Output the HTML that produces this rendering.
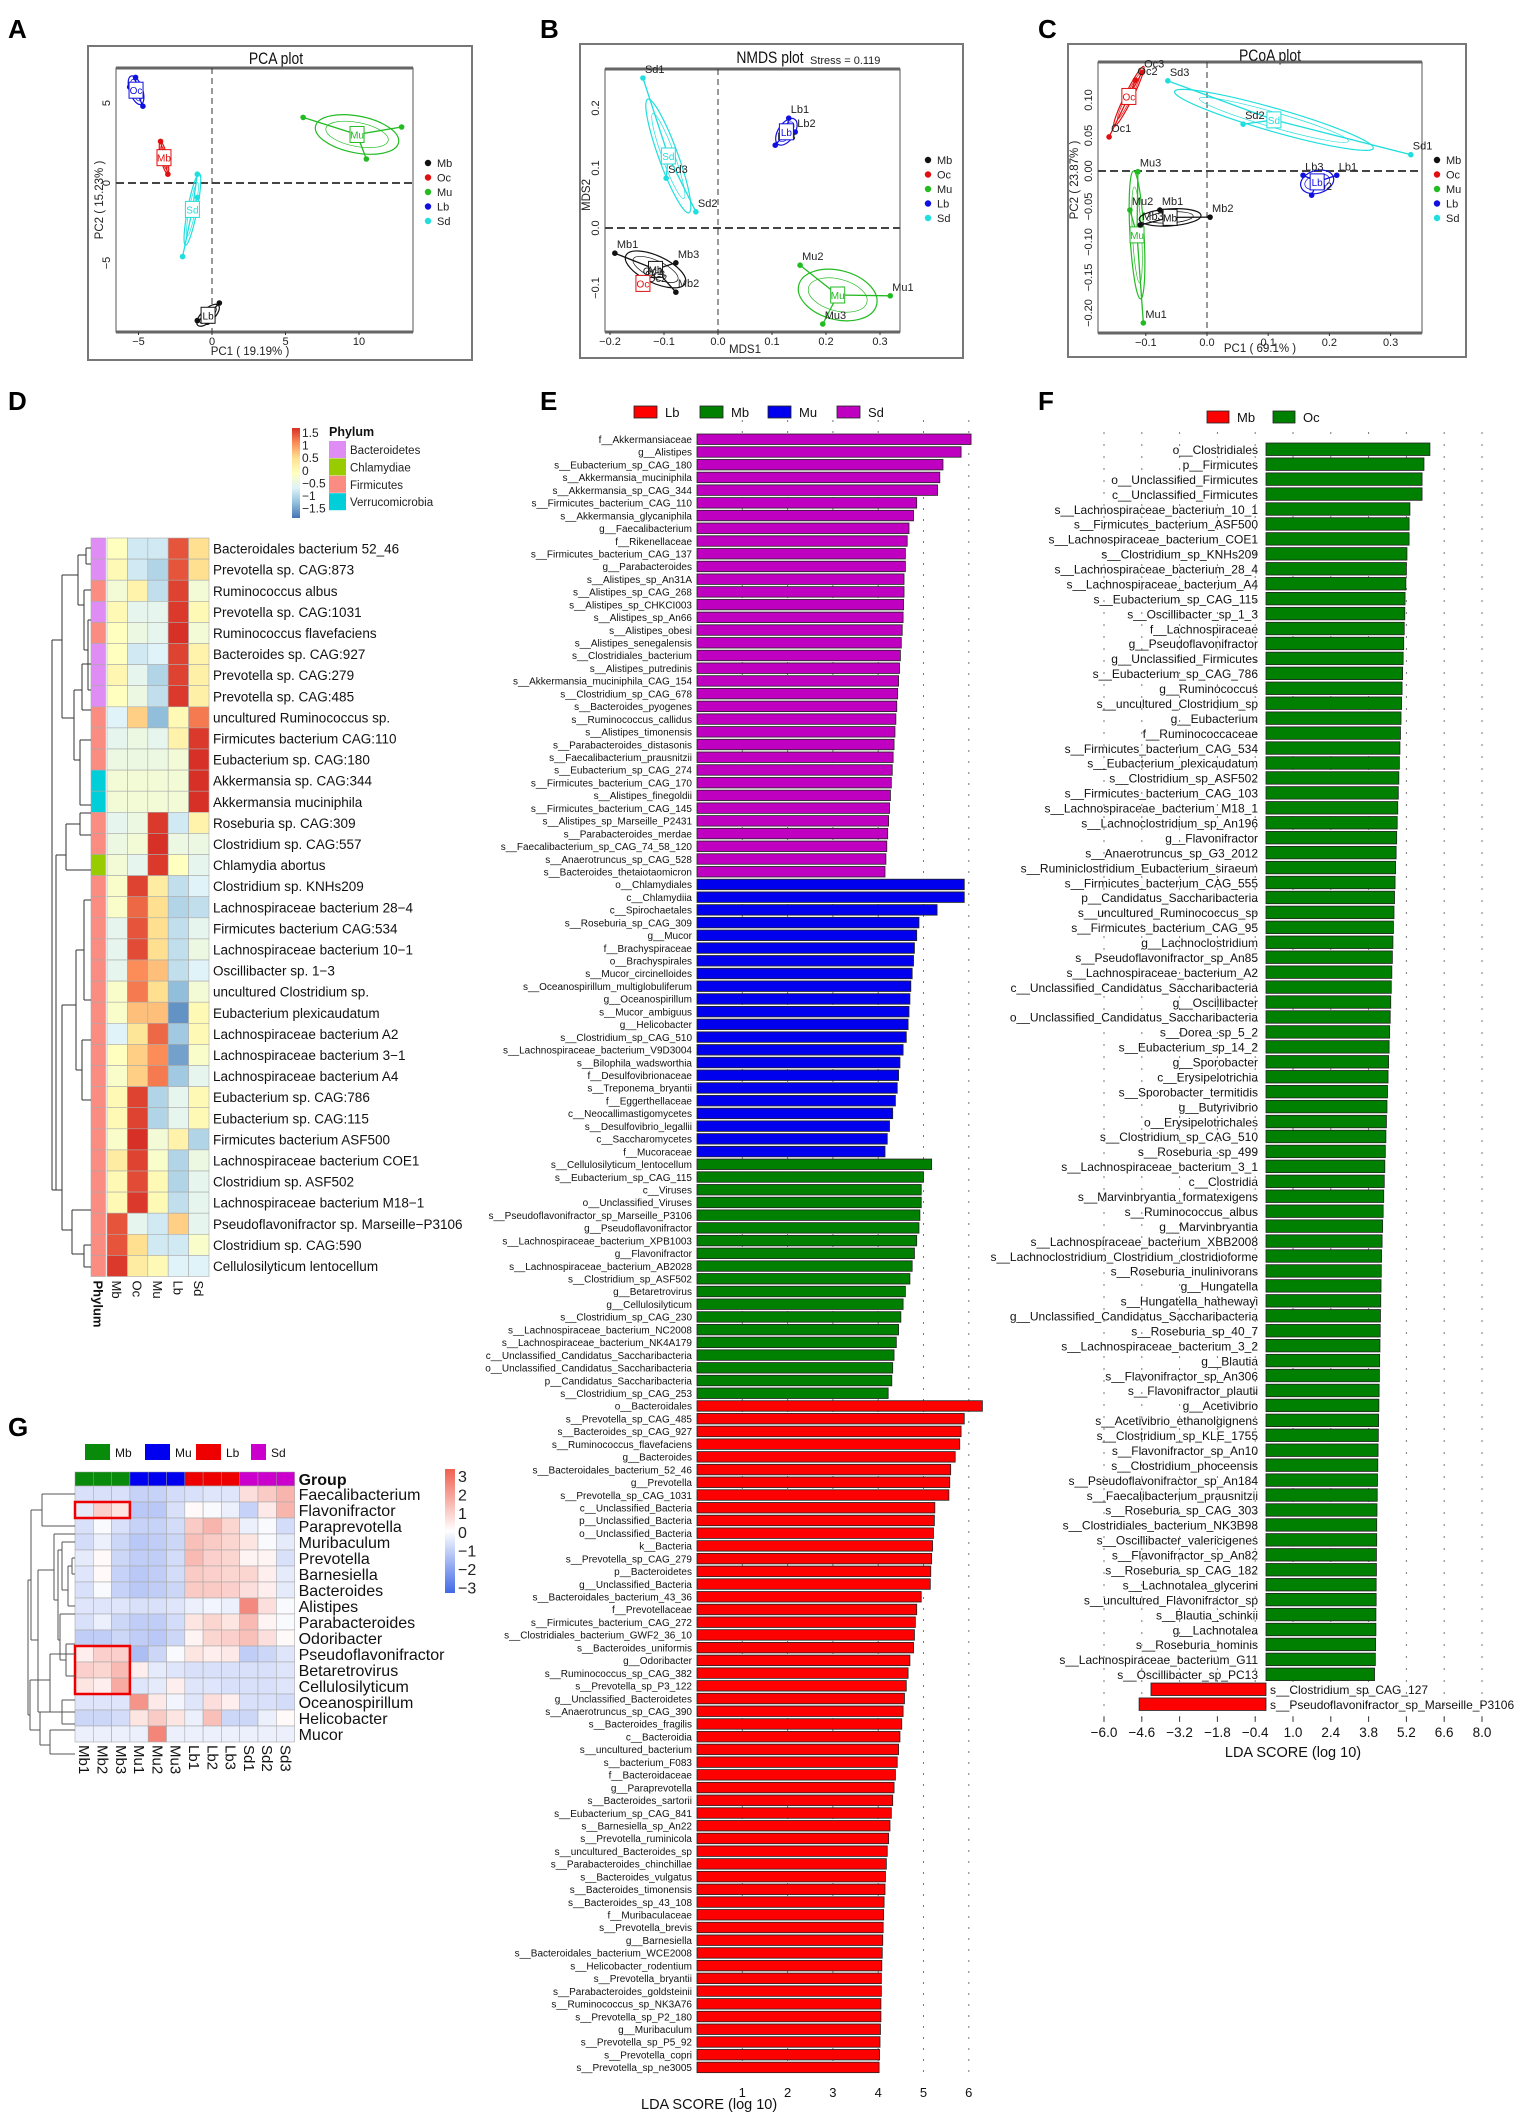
<!DOCTYPE html>
<html><head><meta charset="utf-8"><title>Microbiome figure</title>
<style>
html,body{margin:0;padding:0;background:#fff;}
svg{display:block;font-family:"Liberation Sans",Arial,sans-serif;}
</style></head>
<body>
<svg id="fig" xmlns="http://www.w3.org/2000/svg" width="1535" height="2120" viewBox="0 0 1535 2120"></svg>
<script>
// ---------------- DATA ----------------
const pcaGroups = ["Oc","Mb","Mu","Sd","Lb"];
const pcaColors = ["#1010e0","#e01010","#22bb22","#20dede","#111111"];
const pcaX = [[-5.2,-4.7,-5.6],[-3.5,-3.0,-3.3],[6.2,12.9,10.5],[-1.0,-2.0,-1.0],[0.5,-1.0,-0.3]];
const pcaY = [[6.6,4.8,6.0],[2.6,0.55,1.6],[4.1,3.5,1.5],[0.55,-4.6,-0.9],[-7.5,-8.6,-8.7]];
const pcaXTicks = [-5,0,5,10];
const pcaYTicks = [5,0,-5];
const nmdsNames = [["Sd1","Sd3","Sd2"],["Lb1","Lb2","Lb3"],["Mb1","Mb3","Mb2"],["Oc1","Oc2","Oc3"],["Mu2","Mu1","Mu3"]];
const nmdsColors = ["#20dede","#1010e0","#111111","#e01010","#22bb22"];
const nmdsX = [[-0.139,-0.096,-0.041],[0.131,0.143,0.106],[-0.191,-0.078,-0.078],[-0.143,-0.135,-0.139],[0.152,0.319,0.194]];
const nmdsY = [[0.25,0.083,0.027],[0.183,0.16,0.138],[-0.042,-0.058,-0.107],[-0.087,-0.098,-0.092],[-0.062,-0.113,-0.16]];
const nmdsXTicks = ["-0.2","-0.1","0.0","0.1","0.2","0.3"];
const nmdsYTicks = ["0.2","0.1","0.0","-0.1"];
const pcoaNames = [["Oc3","Oc2","Oc1"],["Sd3","Sd2","Sd1"],["Lb3","Lb1","Lb2"],["Mu3","Mu2","Mu1"],["Mb1","Mb2","Mb3"]];
const pcoaGroupLabels = ["Oc","Sd","Lb","Mu","Mb"];
const pcoaColors = ["#e01010","#20dede","#1010e0","#22bb22","#111111"];
const pcoaX = [[-0.106,-0.117,-0.16],[-0.064,0.059,0.333],[0.157,0.212,0.171],[-0.113,-0.126,-0.104],[-0.077,0.005,-0.109]];
const pcoaY = [[0.139,0.128,0.048],[0.127,0.066,0.023],[-0.006,-0.006,-0.034],[-0.001,-0.055,-0.214],[-0.055,-0.065,-0.076]];
const pcoaXTicks = ["-0.1","0.0","0.1","0.2","0.3"];
const pcoaYTicks = ["0.10","0.05","0.00","-0.05","-0.10","-0.15","-0.20"];
const legendGroups = ["Mb","Oc","Mu","Lb","Sd"];
const legendColors = ["#111111","#e01010","#22bb22","#1010e0","#20dede"];

const dCols = ["Mb","Oc","Mu","Lb","Sd"];
const dRows = ["Bacteroidales bacterium 52_46","Prevotella sp. CAG:873","Ruminococcus albus","Prevotella sp. CAG:1031","Ruminococcus flavefaciens","Bacteroides sp. CAG:927","Prevotella sp. CAG:279","Prevotella sp. CAG:485","uncultured Ruminococcus sp.","Firmicutes bacterium CAG:110","Eubacterium sp. CAG:180","Akkermansia sp. CAG:344","Akkermansia muciniphila","Roseburia sp. CAG:309","Clostridium sp. CAG:557","Chlamydia abortus","Clostridium sp. KNHs209","Lachnospiraceae bacterium 28\u22124","Firmicutes bacterium CAG:534","Lachnospiraceae bacterium 10\u22121","Oscillibacter sp. 1\u22123","uncultured Clostridium sp.","Eubacterium plexicaudatum","Lachnospiraceae bacterium A2","Lachnospiraceae bacterium 3\u22121","Lachnospiraceae bacterium A4","Eubacterium sp. CAG:786","Eubacterium sp. CAG:115","Firmicutes bacterium ASF500","Lachnospiraceae bacterium COE1","Clostridium sp. ASF502","Lachnospiraceae bacterium M18\u22121","Pseudoflavonifractor sp. Marseille\u2212P3106","Clostridium sp. CAG:590","Cellulosilyticum lentocellum"];
const dPhylum = ["B","B","F","B","F","B","B","B","F","F","F","V","V","F","F","C","F","F","F","F","F","F","F","F","F","F","F","F","F","F","F","F","F","F","F"];
const dValues = [
[0,-0.6,-0.6,1.3,0.5],[0.1,-0.6,-0.8,1.3,0.5],[-0.2,0.2,-0.7,1.4,-0.2],[0.1,-0.4,-0.4,1.45,0.1],[0,-0.3,-0.4,1.5,-0.2],
[0,-0.6,-0.5,1.4,0.2],[0.15,-0.4,-0.8,1.4,0.25],[0,-0.3,-0.7,1.45,0.25],[-0.5,0.6,-1.0,0.1,1.1],[-0.4,-0.3,-0.4,0.2,1.45],
[-0.3,-0.3,-0.3,-0.2,1.5],[-0.2,-0.2,-0.2,-0.2,1.5],[-0.2,-0.2,-0.2,-0.2,1.5],[-0.4,-0.3,1.45,-0.6,0.2],[-0.3,-0.2,1.5,-0.3,-0.3],
[-0.2,-0.4,1.45,0,-0.4],[-0.1,1.4,0.3,-0.7,-0.5],[-0.1,1.2,0.5,-0.8,-0.7],[-0.4,1.3,0.5,-0.7,-0.4],[-0.4,1.35,0.5,-0.7,-0.3],
[-0.4,1.0,0.7,-0.7,-0.5],[-0.1,1.1,0.5,-1.0,-0.2],[-0.1,0.7,0.7,-1.3,0.1],[-0.5,0.4,1.2,-0.9,0.1],[0,0.6,1.0,-1.2,-0.1],
[-0.1,0.6,1.1,-0.9,-0.4],[0.1,1.4,-0.8,-0.4,0.1],[0.1,1.4,-0.8,-0.4,0.1],[-0.1,1.5,-0.2,0.2,-0.8],[0.3,1.4,-0.1,-0.8,-0.3],
[0.1,1.35,0.1,-0.8,-0.4],[0.1,1.45,0.1,-0.7,-0.4],[1.3,-0.4,-0.6,0.6,-0.4],[1.3,0.5,-0.6,-0.6,-0.1],[1.45,0.3,0.1,-0.5,-0.5]];
const dScaleTicks = ["1.5","1","0.5","0","\u22120.5","\u22121","\u22121.5"];
const phylumNames = ["Bacteroidetes","Chlamydiae","Firmicutes","Verrucomicrobia"];
const phylumCodes = ["B","C","F","V"];
const phylumColors = ["#E08CF5","#99CC00","#FA8C82","#00CED9"];

const eGroupNames = ["Lb","Mb","Mu","Sd"];
const eGroupColors = ["#FF0000","#008000","#0000EE","#C000C0"];
const eSdLabels = ["f__Akkermansiaceae","g__Alistipes","s__Eubacterium_sp_CAG_180","s__Akkermansia_muciniphila","s__Akkermansia_sp_CAG_344","s__Firmicutes_bacterium_CAG_110","s__Akkermansia_glycaniphila","g__Faecalibacterium","f__Rikenellaceae","s__Firmicutes_bacterium_CAG_137","g__Parabacteroides","s__Alistipes_sp_An31A","s__Alistipes_sp_CAG_268","s__Alistipes_sp_CHKCI003","s__Alistipes_sp_An66","s__Alistipes_obesi","s__Alistipes_senegalensis","s__Clostridiales_bacterium","s__Alistipes_putredinis","s__Akkermansia_muciniphila_CAG_154","s__Clostridium_sp_CAG_678","s__Bacteroides_pyogenes","s__Ruminococcus_callidus","s__Alistipes_timonensis","s__Parabacteroides_distasonis","s__Faecalibacterium_prausnitzii","s__Eubacterium_sp_CAG_274","s__Firmicutes_bacterium_CAG_170","s__Alistipes_finegoldii","s__Firmicutes_bacterium_CAG_145","s__Alistipes_sp_Marseille_P2431","s__Parabacteroides_merdae","s__Faecalibacterium_sp_CAG_74_58_120","s__Anaerotruncus_sp_CAG_528","s__Bacteroides_thetaiotaomicron"];
const eSdValues = [6.05,5.83,5.43,5.36,5.31,4.85,4.78,4.68,4.64,4.60,4.60,4.57,4.57,4.56,4.55,4.53,4.51,4.49,4.47,4.45,4.43,4.41,4.39,4.37,4.35,4.33,4.31,4.29,4.27,4.25,4.23,4.21,4.19,4.17,4.15];
const eMuLabels = ["o__Chlamydiales","c__Chlamydiia","c__Spirochaetales","s__Roseburia_sp_CAG_309","g__Mucor","f__Brachyspiraceae","o__Brachyspirales","s__Mucor_circinelloides","s__Oceanospirillum_multiglobuliferum","g__Oceanospirillum","s__Mucor_ambiguus","g__Helicobacter","s__Clostridium_sp_CAG_510","s__Lachnospiraceae_bacterium_V9D3004","s__Bilophila_wadsworthia","f__Desulfovibrionaceae","s__Treponema_bryantii","f__Eggerthellaceae","c__Neocallimastigomycetes","s__Desulfovibrio_legallii","c__Saccharomycetes","f__Mucoraceae"];
const eMuValues = [5.90,5.90,5.30,4.90,4.85,4.80,4.78,4.75,4.72,4.70,4.68,4.66,4.62,4.55,4.48,4.45,4.42,4.38,4.32,4.25,4.20,4.15];
const eMbLabels = ["s__Cellulosilyticum_lentocellum","s__Eubacterium_sp_CAG_115","c__Viruses","o__Unclassified_Viruses","s__Pseudoflavonifractor_sp_Marseille_P3106","g__Pseudoflavonifractor","s__Lachnospiraceae_bacterium_XPB1003","g__Flavonifractor","s__Lachnospiraceae_bacterium_AB2028","s__Clostridium_sp_ASF502","g__Betaretrovirus","g__Cellulosilyticum","s__Clostridium_sp_CAG_230","s__Lachnospiraceae_bacterium_NC2008","s__Lachnospiraceae_bacterium_NK4A179","c__Unclassified_Candidatus_Saccharibacteria","o__Unclassified_Candidatus_Saccharibacteria","p__Candidatus_Saccharibacteria","s__Clostridium_sp_CAG_253"];
const eMbValues = [5.18,5.00,4.95,4.95,4.92,4.90,4.85,4.80,4.75,4.70,4.60,4.55,4.50,4.45,4.40,4.35,4.32,4.30,4.22];
const eLbLabels = ["o__Bacteroidales","s__Prevotella_sp_CAG_485","s__Bacteroides_sp_CAG_927","s__Ruminococcus_flavefaciens","g__Bacteroides","s__Bacteroidales_bacterium_52_46","g__Prevotella","s__Prevotella_sp_CAG_1031","c__Unclassified_Bacteria","p__Unclassified_Bacteria","o__Unclassified_Bacteria","k__Bacteria","s__Prevotella_sp_CAG_279","p__Bacteroidetes","g__Unclassified_Bacteria","s__Bacteroidales_bacterium_43_36","f__Prevotellaceae","s__Firmicutes_bacterium_CAG_272","s__Clostridiales_bacterium_GWF2_36_10","s__Bacteroides_uniformis","g__Odoribacter","s__Ruminococcus_sp_CAG_382","s__Prevotella_sp_P3_122","g__Unclassified_Bacteroidetes","s__Anaerotruncus_sp_CAG_390","s__Bacteroides_fragilis","c__Bacteroidia","s__uncultured_bacterium","s__bacterium_F083","f__Bacteroidaceae","g__Paraprevotella","s__Bacteroides_sartorii","s__Eubacterium_sp_CAG_841","s__Barnesiella_sp_An22","s__Prevotella_ruminicola","s__uncultured_Bacteroides_sp","s__Parabacteroides_chinchillae","s__Bacteroides_vulgatus","s__Bacteroides_timonensis","s__Bacteroides_sp_43_108","f__Muribaculaceae","s__Prevotella_brevis","g__Barnesiella","s__Bacteroidales_bacterium_WCE2008","s__Helicobacter_rodentium","s__Prevotella_bryantii","s__Parabacteroides_goldsteinii","s__Ruminococcus_sp_NK3A76","s__Prevotella_sp_P2_180","g__Muribaculum","s__Prevotella_sp_P5_92","s__Prevotella_copri","s__Prevotella_sp_ne3005"];
const eLbValues = [6.30,5.90,5.83,5.80,5.70,5.60,5.58,5.56,5.25,5.24,5.22,5.20,5.18,5.16,5.15,4.95,4.85,4.82,4.80,4.78,4.70,4.66,4.62,4.58,4.55,4.52,4.48,4.45,4.42,4.38,4.35,4.32,4.29,4.26,4.23,4.20,4.18,4.16,4.15,4.13,4.12,4.11,4.10,4.09,4.08,4.07,4.07,4.06,4.06,4.05,4.04,4.03,4.02];
const eTicks = [1,2,3,4,5,6];

const fGroupNames = ["Mb","Oc"];
const fGroupColors = ["#FF0000","#008000"];
const fOcLabels = ["o__Clostridiales","p__Firmicutes","o__Unclassified_Firmicutes","c__Unclassified_Firmicutes","s__Lachnospiraceae_bacterium_10_1","s__Firmicutes_bacterium_ASF500","s__Lachnospiraceae_bacterium_COE1","s__Clostridium_sp_KNHs209","s__Lachnospiraceae_bacterium_28_4","s__Lachnospiraceae_bacterium_A4","s__Eubacterium_sp_CAG_115","s__Oscillibacter_sp_1_3","f__Lachnospiraceae","g__Pseudoflavonifractor","g__Unclassified_Firmicutes","s__Eubacterium_sp_CAG_786","g__Ruminococcus","s__uncultured_Clostridium_sp","g__Eubacterium","f__Ruminococcaceae","s__Firmicutes_bacterium_CAG_534","s__Eubacterium_plexicaudatum","s__Clostridium_sp_ASF502","s__Firmicutes_bacterium_CAG_103","s__Lachnospiraceae_bacterium_M18_1","s__Lachnoclostridium_sp_An196","g__Flavonifractor","s__Anaerotruncus_sp_G3_2012","s__Ruminiclostridium_Eubacterium_siraeum","s__Firmicutes_bacterium_CAG_555","p__Candidatus_Saccharibacteria","s__uncultured_Ruminococcus_sp","s__Firmicutes_bacterium_CAG_95","g__Lachnoclostridium","s__Pseudoflavonifractor_sp_An85","s__Lachnospiraceae_bacterium_A2","c__Unclassified_Candidatus_Saccharibacteria","g__Oscillibacter","o__Unclassified_Candidatus_Saccharibacteria","s__Dorea_sp_5_2","s__Eubacterium_sp_14_2","g__Sporobacter","c__Erysipelotrichia","s__Sporobacter_termitidis","g__Butyrivibrio","o__Erysipelotrichales","s__Clostridium_sp_CAG_510","s__Roseburia_sp_499","s__Lachnospiraceae_bacterium_3_1","c__Clostridia","s__Marvinbryantia_formatexigens","s__Ruminococcus_albus","g__Marvinbryantia","s__Lachnospiraceae_bacterium_XBB2008","s__Lachnoclostridium_Clostridium_clostridioforme","s__Roseburia_inulinivorans","g__Hungatella","s__Hungatella_hathewayi","g__Unclassified_Candidatus_Saccharibacteria","s__Roseburia_sp_40_7","s__Lachnospiraceae_bacterium_3_2","g__Blautia","s__Flavonifractor_sp_An306","s__Flavonifractor_plautii","g__Acetivibrio","s__Acetivibrio_ethanolgignens","s__Clostridium_sp_KLE_1755","s__Flavonifractor_sp_An10","s__Clostridium_phoceensis","s__Pseudoflavonifractor_sp_An184","s__Faecalibacterium_prausnitzii","s__Roseburia_sp_CAG_303","s__Clostridiales_bacterium_NK3B98","s__Oscillibacter_valericigenes","s__Flavonifractor_sp_An82","s__Roseburia_sp_CAG_182","s__Lachnotalea_glycerini","s__uncultured_Flavonifractor_sp","s__Blautia_schinkii","g__Lachnotalea","s__Roseburia_hominis","s__Lachnospiraceae_bacterium_G11","s__Oscillibacter_sp_PC13"];
const fOcValues = [6.07,5.85,5.78,5.78,5.33,5.30,5.30,5.22,5.20,5.18,5.15,5.14,5.12,5.10,5.08,5.06,5.04,5.02,5.00,4.98,4.96,4.94,4.92,4.90,4.88,4.86,4.84,4.82,4.80,4.78,4.76,4.74,4.72,4.70,4.68,4.66,4.64,4.62,4.60,4.58,4.56,4.54,4.52,4.50,4.48,4.46,4.44,4.42,4.40,4.38,4.36,4.34,4.32,4.30,4.28,4.27,4.26,4.25,4.24,4.23,4.22,4.21,4.20,4.19,4.18,4.17,4.16,4.15,4.14,4.13,4.12,4.11,4.10,4.10,4.09,4.09,4.08,4.08,4.07,4.07,4.06,4.05,4.02];
const fMbLabels = ["s__Clostridium_sp_CAG_127","s__Pseudoflavonifractor_sp_Marseille_P3106"];
const fMbValues = [-4.26,-4.70];
const fTicks = ["\u22126.0","\u22124.6","\u22123.2","\u22121.8","\u22120.4","1.0","2.4","3.8","5.2","6.6","8.0"];
const fTickVals = [-6.0,-4.6,-3.2,-1.8,-0.4,1.0,2.4,3.8,5.2,6.6,8.0];

const gCols = ["Mb1","Mb2","Mb3","Mu1","Mu2","Mu3","Lb1","Lb2","Lb3","Sd1","Sd2","Sd3"];
const gColGroup = ["Mb","Mb","Mb","Mu","Mu","Mu","Lb","Lb","Lb","Sd","Sd","Sd"];
const gGroupNames = ["Mb","Mu","Lb","Sd"];
const gGroupColors = ["#0A8A0A","#0000F0","#EE0000","#CC00CC"];
const gRows = ["Faecalibacterium","Flavonifractor","Paraprevotella","Muribaculum","Prevotella","Barnesiella","Bacteroides","Alistipes","Parabacteroides","Odoribacter","Pseudoflavonifractor","Betaretrovirus","Cellulosilyticum","Oceanospirillum","Helicobacter","Mucor"];
const gValues = [
[-0.6,-0.6,-0.6,-0.9,-0.9,-0.7,-0.6,-0.5,-0.5,0.6,1.0,1.4],
[-0.4,0.9,0.5,-1.1,-1.1,-0.6,0.1,-0.1,-0.3,-0.9,0.4,1.4],
[-0.6,-0.1,-0.6,-0.9,-0.9,-0.7,1.0,1.4,0.8,-0.3,-0.1,-0.7],
[-0.7,-0.3,-0.8,-1.1,-1.0,-0.8,1.2,1.0,0.8,0.5,-0.1,-0.4],
[-0.4,0.1,-0.8,-1.0,-1.0,-0.7,1.3,0.9,0.8,0.2,0.2,-0.6],
[-0.5,0.1,-0.9,-1.1,-1.0,-0.7,1.0,0.9,0.8,0.8,0.3,-0.4],
[-0.6,-0.1,-0.9,-1.1,-1.0,-0.8,1.0,1.0,0.9,0.6,0.3,-0.4],
[-0.5,-0.5,-0.5,-0.6,-0.6,-0.5,-0.3,-0.2,-0.3,2.2,0.6,-0.1],
[-0.6,-0.3,-0.8,-1.0,-1.0,-0.7,0.5,0.8,0.5,1.3,0.2,-0.1],
[-1.0,-1.0,-0.8,-1.0,-1.1,-0.8,0.2,0.8,0.9,1.2,0.6,0.1],
[0.3,0.9,0.9,-1.3,-0.8,-0.1,0.5,0.3,0.4,-1.0,-0.8,-0.5],
[0.9,0.8,1.3,0.3,-0.4,-0.5,-0.6,-0.6,-0.6,-0.6,-0.6,-0.5],
[0.5,0.3,1.6,-0.5,-0.4,0.3,-0.5,-0.5,-0.6,-0.6,-0.6,-0.5],
[-0.5,-0.5,-0.5,2.0,0.4,-0.2,-0.5,0.6,0.3,-0.6,-0.6,-0.7],
[-0.8,-0.8,-0.7,0.5,1.0,0.5,-0.3,1.2,-0.8,-0.8,-0.3,0.1],
[-0.3,-0.3,-0.3,-0.3,2.3,-0.3,-0.3,-0.3,-0.3,-0.3,-0.3,-0.3]];
const gScaleTicks = ["3","2","1","0","\u22121","\u22122","\u22123"];

// ---------------- DRAWING ----------------
const NS = "http://www.w3.org/2000/svg";
const svg = document.getElementById("fig");
function mk(tag, attrs, parent){ const e = document.createElementNS(NS, tag); for (const k in attrs) e.setAttribute(k, attrs[k]); (parent||svg).appendChild(e); return e; }
function tx(str, attrs, parent){ const t = mk("text", attrs, parent); t.textContent = str; return t; }
function grp(name){ const g = mk("g", {});   return g; }

const letters = [["A",8,38],["B",540,38],["C",1038,38],["D",8,410],["E",540,410],["F",1038,410],["G",8,1436]];
for (const [L,x,y] of letters){
  const t = tx(L, {x:x, y:y, "font-size":26, "font-weight":"bold", fill:"#000"});
  
  
}

function hexMix(a, b, t){
  const pa = [1,3,5].map(i=>parseInt(a.substr(i,2),16)), pb=[1,3,5].map(i=>parseInt(b.substr(i,2),16));
  return "rgb(" + pa.map((v,i)=>Math.round(v+(pb[i]-v)*t)).join(",") + ")";
}
function ramp(stops, t){
  t = Math.max(0, Math.min(1, t));
  const n = stops.length - 1, i = Math.min(n-1, Math.floor(t*n));
  return hexMix(stops[i], stops[i+1], t*n - i);
}

function ordPanel(cfg){
  const g = grp(cfg.name);
  const fr = mk("rect", {x:cfg.ox, y:cfg.oy, width:cfg.ow, height:cfg.oh, fill:"#fff", stroke:"#777", "stroke-width":2}, g);
  
  
  const t = tx(cfg.title, {x:cfg.titleX/0.82, y:cfg.titleY, "font-size":17, "text-anchor":"middle", fill:"#111", transform:`scale(0.82,1)`}, g);
  
  
  const ib = mk("rect", {x:cfg.ix, y:cfg.iy, width:cfg.iw, height:cfg.ih, fill:"none", stroke:"#555", "stroke-width":1}, g);
  
  
  mk("line", {x1:cfg.ix, y1:cfg.iy, x2:cfg.ix+cfg.iw, y2:cfg.iy, stroke:"#666", "stroke-width":3}, g);
  mk("line", {x1:cfg.ix, y1:cfg.iy+cfg.ih, x2:cfg.ix+cfg.iw, y2:cfg.iy+cfg.ih, stroke:"#666", "stroke-width":3}, g);
  const zx = cfg.sx(0), zy = cfg.sy(0);
  const vl = mk("line", {x1:zx, y1:cfg.iy, x2:zx, y2:cfg.iy+cfg.ih, stroke:"#333", "stroke-dasharray":"6,4", "stroke-width":1}, g);
  
  
  const hl = mk("line", {x1:cfg.ix, y1:zy, x2:cfg.ix+cfg.iw, y2:zy, stroke:"#444", "stroke-dasharray":"8,4", "stroke-width":2}, g);
  
  
  cfg.xTicks.forEach(v=>{
    const x = cfg.sx(parseFloat(v));
    mk("line", {x1:x, y1:cfg.iy+cfg.ih, x2:x, y2:cfg.iy+cfg.ih+3, stroke:"#333"}, g);
    const tt = tx(String(v).replace("-","\u2212"), {x:x, y:cfg.iy+cfg.ih+13, "font-size":11, "text-anchor":"middle", fill:"#222"}, g);
    
    
  });
  cfg.yTicks.forEach(v=>{
    const y = cfg.sy(parseFloat(v));
    const tt = tx(String(v).replace("-","\u2212"), {x:0, y:0, "font-size":11, "text-anchor":"middle", fill:"#222", transform:`translate(${cfg.ix-6},${y}) rotate(-90)`}, g);
    
    
  });
  const xl = tx(cfg.xLabel, {x:cfg.xLabelX, y:cfg.oy+cfg.oh-5, "font-size":11.5, "text-anchor":"middle", fill:"#222"}, g);
  
  
  const yl = tx(cfg.yLabel, {x:0, y:0, "font-size":11.5, "text-anchor":"middle", fill:"#222", transform:`translate(${cfg.yLabelX},${cfg.yLabelY}) rotate(-90)`}, g);
  
  
  if (cfg.stress){
    const st = tx(cfg.stress, {x:cfg.ix+cfg.iw-90, y:cfg.oy+20, "font-size":11, fill:"#222"}, g);
    
    
  }
  cfg.xs.forEach((xs, gi)=>{
    const col = cfg.colors[gi];
    const pts = xs.map((v,i)=>[cfg.sx(v), cfg.sy(cfg.ys[gi][i])]);
    const cx = pts.reduce((s,p)=>s+p[0],0)/pts.length, cy = pts.reduce((s,p)=>s+p[1],0)/pts.length;
    let sxx=0, syy=0, sxy=0;
    pts.forEach(p=>{ sxx += (p[0]-cx)**2; syy += (p[1]-cy)**2; sxy += (p[0]-cx)*(p[1]-cy); });
    sxx/=pts.length; syy/=pts.length; sxy/=pts.length;
    const tr = sxx+syy, det = sxx*syy - sxy*sxy, disc = Math.sqrt(Math.max(0, tr*tr/4 - det));
    const l1 = tr/2 + disc, l2 = Math.max(0, tr/2 - disc);
    const ang = Math.atan2(l1 - sxx, sxy || 1e-6) * 180/Math.PI;
    const rx = Math.sqrt(l1)*0.95 + 3, ry = Math.sqrt(l2)*0.95 + 3;
    const gg = mk("g", {}, g);
    
    
    const el = mk("ellipse", {cx:cx, cy:cy, rx:rx, ry:ry, fill:"none", stroke:col, "stroke-width":1.2, transform:`rotate(${ang} ${cx} ${cy})`}, gg);
    
    
    mk("ellipse", {cx:cx, cy:cy, rx:rx*0.75, ry:ry*0.65, fill:"none", stroke:col, "stroke-width":0.7, transform:`rotate(${ang} ${cx} ${cy})`}, gg);
    pts.forEach((p,i)=>{
      mk("line", {x1:cx, y1:cy, x2:p[0], y2:p[1], stroke:col, "stroke-width":1.3}, gg);
      const c = mk("circle", {cx:p[0], cy:p[1], r:2.8, fill:col}, gg);
      
      
      if (cfg.names){
        const lt = tx(cfg.names[gi][i], {x:p[0]+2, y:p[1]-5, "font-size":11, fill:"#222"}, gg);
        
        
      }
    });
    const bx = mk("rect", {x:cx-7, y:cy-8, width:14, height:16, fill:"#fff", stroke:col, "stroke-width":1}, gg);
    
    
    const ct = tx(cfg.groupLabels[gi], {x:cx, y:cy+4, "font-size":10, "text-anchor":"middle", fill:col}, gg);
    
    
  });
  legendGroups.forEach((n,i)=>{
    const y = cfg.legY + i*14.5;
    const c = mk("circle", {cx:cfg.legX, cy:y, r:3.2, fill:legendColors[i]}, g);
    
    
    const lt = tx(n, {x:cfg.legX+9, y:y+4, "font-size":11, fill:"#222"}, g);
    
    
  });
}

ordPanel({name:"pca-plot", ox:88, oy:46, ow:384, oh:314, title:"PCA plot", titleX:276, titleY:64,
  ix:116, iy:68, iw:297, ih:264, sx:v=>212+v*14.7, sy:v=>183-v*16,
  xTicks:pcaXTicks, yTicks:pcaYTicks, xLabel:"PC1 ( 19.19% )", xLabelX:250, yLabel:"PC2 ( 15.23% )", yLabelX:103, yLabelY:200,
  xs:pcaX, ys:pcaY, colors:pcaColors, groupLabels:pcaGroups, legX:428, legY:163});
ordPanel({name:"nmds-plot", ox:580, oy:44, ow:383, oh:314, title:"NMDS plot", titleX:770, titleY:63, stress:"Stress = 0.119",
  ix:605, iy:69, iw:295, ih:263, sx:v=>718+v*540, sy:v=>228-v*600,
  xTicks:nmdsXTicks, yTicks:nmdsYTicks, xLabel:"MDS1", xLabelX:745, yLabel:"MDS2", yLabelX:590, yLabelY:195,
  xs:nmdsX, ys:nmdsY, names:nmdsNames, colors:nmdsColors, groupLabels:["Sd","Lb","Mb","Oc","Mu"], legX:928, legY:160});
ordPanel({name:"pcoa-plot", ox:1068, oy:44, ow:398, oh:313, title:"PCoA plot", titleX:1270, titleY:61,
  ix:1098, iy:62, iw:324, ih:271, sx:v=>1207+v*612, sy:v=>171-v*710,
  xTicks:pcoaXTicks, yTicks:pcoaYTicks, xLabel:"PC1 ( 69.1% )", xLabelX:1260, yLabel:"PC2 ( 23.87% )", yLabelX:1078, yLabelY:180,
  xs:pcoaX, ys:pcoaY, names:pcoaNames, colors:pcoaColors, groupLabels:pcoaGroupLabels, legX:1437, legY:160});

(function(){
  const g = grp("heatmap-d");
  const x0 = 107, cw = 20.4, y0 = 538, rh = 21.1, px = 91, pw = 14.5;
  const stops = ["#4575B4","#91BFDB","#E0F3F8","#FFFFBF","#FEE090","#FC8D59","#D73027"];
  const col = v => ramp(stops, (v + 1.5) / 3);
  dRows.forEach((r, ri)=>{
    const y = y0 + ri*rh;
    const pc = phylumColors[phylumCodes.indexOf(dPhylum[ri])];
    const p = mk("rect", {x:px, y:y, width:pw, height:rh, fill:pc, stroke:"#aaa", "stroke-width":0.6}, g);
    
    
    dCols.forEach((c, ci)=>{
      const cell = mk("rect", {x:x0+ci*cw, y:y, width:cw, height:rh, fill:col(dValues[ri][ci]), stroke:"#aaa", "stroke-width":0.6}, g);
      
      
    });
    const t = tx(r, {x:213, y:y+rh/2+5, "font-size":13.5, fill:"#111"}, g);
    
    
  });
  const yb = y0 + dRows.length*rh;
  ["Phylum"].concat(dCols).forEach((c,i)=>{
    const x = i===0 ? px+pw/2 : x0 + (i-1)*cw + cw/2;
    const t = tx(c, {x:0, y:0, "font-size":13, "font-weight": i===0?"bold":"normal", fill:"#111", transform:`translate(${x-5},${yb+4}) rotate(90)`}, g);
    
    
  });
  const dd = mk("path", {fill:"none", stroke:"#333", "stroke-width":1, d:
   "M52 640 V1190 M52 640 H62 M52 1190 H56 M62 575 V718 M62 575 H78 M62 718 H74 M78 555 V605 M78 555 H86 M78 605 H84 M86 548 V564 M86 548 H91 M86 564 H91 M84 590 V650 M84 590 H91 M84 650 H88 M88 620 V690 M88 620 H91 M88 690 H91 " +
   "M74 690 V760 M74 690 H82 M74 760 H80 M82 664 V710 M82 664 H91 M82 710 H91 M80 740 V805 M80 740 H91 M80 805 H91 " +
   "M56 855 V1190 M56 855 H66 M56 1190 H62 M66 824 V870 M66 824 H80 M66 870 H91 M80 813 V835 M80 813 H91 M80 835 H91 " +
   "M62 1005 V1230 M62 1005 H76 M62 1230 H72 M76 950 V1070 M76 950 H84 M76 1070 H82 M84 900 V1000 M84 900 H91 M84 1000 H91 M82 1040 V1100 M82 1040 H91 M82 1100 H91 " +
   "M72 1210 V1254 M72 1210 H91 M72 1254 H84 M84 1245 V1267 M84 1245 H91 M84 1267 H91"}, g);
  
  
  const defs = mk("defs", {}, g);
  const lg = mk("linearGradient", {id:"dgrad", x1:0, y1:1, x2:0, y2:0}, defs);
  stops.forEach((s,i)=>mk("stop", {offset:(i/(stops.length-1)), "stop-color":s}, lg));
  const cb = mk("rect", {x:292, y:428, width:8, height:90, fill:"url(#dgrad)"}, g);
  
  
  dScaleTicks.forEach((s,i)=>{
    const t = tx(s, {x:302, y:437 + i*12.6, "font-size":12, fill:"#222"}, g);
    
    
  });
  const ph = tx("Phylum", {x:329, y:436, "font-size":12.5, "font-weight":"bold", fill:"#111"}, g);
  
  
  phylumNames.forEach((n,i)=>{
    const y = 441 + i*17.4;
    const b = mk("rect", {x:329, y:y, width:17, height:17, fill:phylumColors[i]}, g);
    
    
    const t = tx(n, {x:350, y:y+13, "font-size":11.5, fill:"#222"}, g);
    
    
  });
})();

(function(){
  const g = grp("lefse-e");
  const x0 = 697, unit = 45.3, y0 = 434, pitch = 12.72, bh = 10.5;
  const sx = v => x0 + v*unit;
  eGroupNames.forEach((n,i)=>{
    const lx = [634,700,768,837][i];
    const b = mk("rect", {x:lx, y:406, width:23, height:12, fill:eGroupColors[i], stroke:"#222", "stroke-width":0.8}, g);
    
    
    const t = tx(n, {x:lx+31, y:417, "font-size":13, fill:"#111"}, g);
    
    
  });
  const total = eSdLabels.length + eMuLabels.length + eMbLabels.length + eLbLabels.length;
  const yEnd = y0 + total*pitch;
  eTicks.forEach(v=>{
    const gl = mk("line", {x1:sx(v), y1:420, x2:sx(v), y2:yEnd+4, stroke:"#777", "stroke-width":1, "stroke-dasharray":"2,9"}, g);
    
    
    const t = tx(String(v), {x:sx(v), y:yEnd+22, "font-size":13, "text-anchor":"middle", fill:"#111"}, g);
    
    
  });
  const sets = [[eSdLabels,eSdValues,3],[eMuLabels,eMuValues,2],[eMbLabels,eMbValues,1],[eLbLabels,eLbValues,0]];
  let k = 0;
  sets.forEach(([labs, vals, ci])=>{
    labs.forEach((lab,i)=>{
      const y = y0 + k*pitch;
      const b = mk("rect", {x:sx(0), y:y, width:sx(vals[i])-sx(0), height:bh, fill:eGroupColors[ci], stroke:"#222", "stroke-width":0.8}, g);
      
      
      const t = tx(lab, {x:692, y:y+bh-1.5, "font-size":10, "text-anchor":"end", fill:"#111"}, g);
      
      
      k++;
    });
  });
  const at = tx("LDA SCORE (log 10)", {x:641, y:yEnd+34, "font-size":14.5, fill:"#111"}, g);
  
  
})();

(function(){
  const g = grp("lefse-f");
  const x0 = 1266, unit = 27, y0 = 443, pitch = 14.94, bh = 12.5;
  const sx = v => x0 + v*unit;
  fGroupNames.forEach((n,i)=>{
    const lx = [1207,1273][i];
    const b = mk("rect", {x:lx, y:411, width:22, height:12, fill:fGroupColors[i], stroke:"#222", "stroke-width":0.8}, g);
    
    
    const t = tx(n, {x:lx+30, y:422, "font-size":13, fill:"#111"}, g);
    
    
  });
  const total = fOcLabels.length + fMbLabels.length;
  const yEnd = y0 + total*pitch;
  fTickVals.forEach((v,i)=>{
    const gl = mk("line", {x1:sx(v), y1:432, x2:sx(v), y2:yEnd+6, stroke:"#777", "stroke-width":1, "stroke-dasharray":"2,10"}, g);
    
    
    mk("line", {x1:sx(v), y1:yEnd+4, x2:sx(v), y2:yEnd+9, stroke:"#333"}, g);
    const t = tx(fTicks[i], {x:sx(v), y:yEnd+24, "font-size":13.5, "text-anchor":"middle", fill:"#111"}, g);
    
    
  });
  fOcLabels.forEach((lab,i)=>{
    const y = y0 + i*pitch;
    const b = mk("rect", {x:sx(0), y:y, width:sx(fOcValues[i])-sx(0), height:bh, fill:fGroupColors[1], stroke:"#222", "stroke-width":0.8}, g);
    
    
    const t = tx(lab, {x:1258, y:y+bh-1.5, "font-size":12, "text-anchor":"end", fill:"#111"}, g);
    
    
  });
  fMbLabels.forEach((lab,i)=>{
    const y = y0 + (fOcLabels.length + i)*pitch;
    const b = mk("rect", {x:sx(fMbValues[i]), y:y, width:sx(0)-sx(fMbValues[i]), height:bh, fill:fGroupColors[0], stroke:"#222", "stroke-width":0.8}, g);
    
    
    const t = tx(lab, {x:1270, y:y+bh-1.5, "font-size":12, fill:"#111"}, g);
    
    
  });
  const at = tx("LDA SCORE (log 10)", {x:1293, y:yEnd+44, "font-size":14.5, "text-anchor":"middle", fill:"#111"}, g);
  
  
})();

(function(){
  const g = grp("heatmap-g");
  const x0 = 75, cw = 18.3, y0 = 1486, rh = 16;
  const stops = ["#4169E6","#FFFFFF","#F06050"];
  const col = v => ramp(stops, (v + 3) / 6);
  gGroupNames.forEach((n,i)=>{
    const lx = [85,145,196,251][i];
    const b = mk("rect", {x:lx, y:1444, width:i===3?15:25, height:16, fill:gGroupColors[i]}, g);
    
    
    const t = tx(n, {x:lx+(i===3?20:30), y:1457, "font-size":12, fill:"#111"}, g);
    
    
  });
  gColGroup.forEach((gr,ci)=>{
    const b = mk("rect", {x:x0+ci*cw, y:1472, width:cw, height:14, fill:gGroupColors[gGroupNames.indexOf(gr)], stroke:"#999", "stroke-width":0.5}, g);
    
    
  });
  const gt = tx("Group", {x:x0+12*cw+4, y:1485, "font-size":16, "font-weight":"bold", fill:"#111"}, g);
  
  
  gRows.forEach((r,ri)=>{
    const y = y0 + ri*rh;
    gCols.forEach((c,ci)=>{
      const cell = mk("rect", {x:x0+ci*cw, y:y, width:cw, height:rh, fill:col(gValues[ri][ci]), stroke:"#aaa", "stroke-width":0.6}, g);
      
      
    });
    const t = tx(r, {x:x0+12*cw+4, y:y+rh-2, "font-size":16, fill:"#111"}, g);
    
    
  });
  const yb = y0 + gRows.length*rh;
  gCols.forEach((c,ci)=>{
    const t = tx(c, {x:0, y:0, "font-size":15, fill:"#111", transform:`translate(${x0+ci*cw+cw/2-5},${yb+3}) rotate(90)`}, g);
    
    
  });
  const hb1 = mk("rect", {x:x0, y:y0+rh, width:3*cw, height:rh, fill:"none", stroke:"#EE0000", "stroke-width":2.5}, g);
  
  
  const hb2 = mk("rect", {x:x0, y:y0+10*rh, width:3*cw, height:3*rh, fill:"none", stroke:"#EE0000", "stroke-width":2.5}, g);
  
  
  const dd = mk("path", {fill:"none", stroke:"#555", "stroke-width":1, d:
    "M28 1580 V1715 M28 1580 H31 M28 1715 H30 M31 1510 V1640 M31 1510 H42 M31 1640 H38 M42 1494 V1526 M42 1494 H75 M42 1526 H75 " +
    "M38 1570 V1712 M38 1570 H54 M38 1712 H52 M54 1534 V1600 M54 1534 H75 M54 1600 H58 M58 1550 V1640 M58 1550 H62 M58 1640 H60 M62 1542 V1590 M62 1542 H75 M62 1590 H68 M68 1566 V1606 M68 1566 H72 M68 1606 H75 M72 1558 V1574 M72 1558 H75 M72 1574 H75 M60 1614 V1660 M60 1614 H75 M60 1660 H66 M66 1644 V1676 M66 1644 H75 M66 1676 H75 " +
    "M30 1680 V1730 M30 1680 H50 M30 1730 H40 M50 1654 V1712 M50 1654 H75 M50 1712 H62 M62 1700 V1724 M62 1700 H75 M62 1724 H75 M40 1712 V1745 M40 1712 H75 M40 1745 H50 M50 1730 V1754 M50 1730 H75 M50 1754 H75"}, g);
  
  
  const defs = mk("defs", {}, g);
  const lg = mk("linearGradient", {id:"ggrad", x1:0, y1:1, x2:0, y2:0}, defs);
  stops.forEach((s,i)=>mk("stop", {offset:(i/(stops.length-1)), "stop-color":s}, lg));
  const cb = mk("rect", {x:445, y:1469, width:10, height:124, fill:"url(#ggrad)"}, g);
  
  
  gScaleTicks.forEach((s,i)=>{
    const t = tx(s, {x:458, y:1482 + i*18.6, "font-size":16, fill:"#222"}, g);
    
    
  });
})();
</script>
</body></html>
